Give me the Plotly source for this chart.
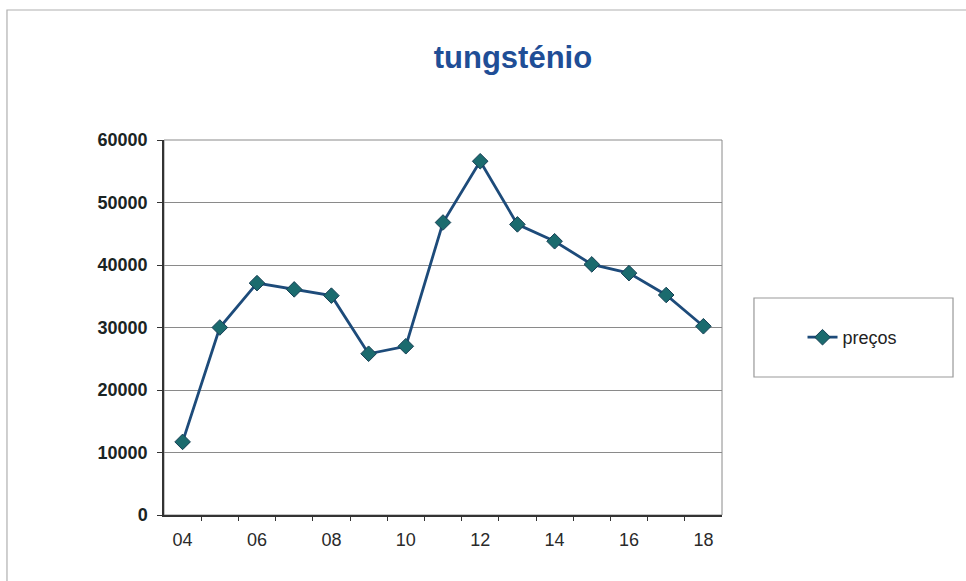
import plotly.graph_objects as go

years = ["04", "05", "06", "07", "08", "09", "10", "11", "12", "13", "14", "15", "16", "17", "18"]
precos = [11700, 30000, 37100, 36100, 35100, 25800, 27000, 46800, 56600, 46500, 43800, 40100, 38700, 35200, 30200]
label_years = ["04", "06", "08", "10", "12", "14", "16", "18"]
y_ticks = [0, 10000, 20000, 30000, 40000, 50000, 60000]

idx = list(range(len(years)))
label_pos = [years.index(y) for y in label_years]
boundaries = [i + 0.5 for i in idx[:-1]]

fig = go.Figure()
fig.add_trace(go.Scatter(
    x=idx, y=precos, mode="lines+markers", name="preços",
    line=dict(color="#1D4B7A", width=2.8),
    marker=dict(symbol="diamond", size=12, color="#1B6B6E",
                line=dict(color="#163F55", width=1)),
))
# invisible helper trace so the boundary-tick axis is drawn
fig.add_trace(go.Scatter(
    x=idx, y=precos, xaxis="x2", mode="markers", marker=dict(opacity=0),
    hoverinfo="skip", showlegend=False,
))

fig.update_layout(
    width=966, height=581,
    margin=dict(l=164, r=244, t=140, b=66),
    paper_bgcolor="white", plot_bgcolor="white",
    title=dict(text="<b>tungsténio</b>", x=0.531, xanchor="center",
               y=0.902, yanchor="middle",
               font=dict(family="Liberation Sans, Arial", size=31, color="#1F4E96")),
    xaxis=dict(range=[-0.5, 14.5], tickvals=label_pos, ticktext=label_years,
               ticks="", showgrid=False, zeroline=False, ticklabelstandoff=8,
               showline=True, linecolor="#333333", linewidth=1.5,
               tickfont=dict(family="Liberation Sans, Arial", size=18, color="#2a2a2a")),
    xaxis2=dict(range=[-0.5, 14.5], overlaying="x", anchor="y", side="bottom",
                tickvals=boundaries, showticklabels=False, ticks="outside",
                ticklen=5, tickcolor="#333333", tickwidth=1.2,
                showgrid=False, zeroline=False, showline=False),
    yaxis=dict(range=[0, 60000], tickvals=y_ticks,
               ticktext=[f"<b>{v}</b>" for v in y_ticks],
               ticks="outside", ticklen=5, tickcolor="#333333", ticklabelstandoff=6,
               showgrid=True, gridcolor="#8a8a8a", gridwidth=1,
               zeroline=False, showline=True, linecolor="#333333", linewidth=1.5,
               tickfont=dict(family="Liberation Sans, Arial", size=18, color="#1a2424")),
    showlegend=True,
    legend=dict(x=1.2339, y=0.4733, xanchor="center", yanchor="middle",
                bgcolor="rgba(0,0,0,0)", borderwidth=0,
                font=dict(family="Liberation Sans, Arial", size=18, color="#222222")),
    shapes=[
        dict(type="rect", xref="x domain", yref="y domain", x0=0, x1=1, y0=0, y1=1,
             line=dict(color="#8a8a8a", width=1), layer="below"),
        dict(type="rect", xref="paper", yref="paper", x0=1.0573, x1=1.414, y0=0.368, y1=0.5787,
             line=dict(color="#999999", width=1.2), fillcolor="rgba(0,0,0,0)"),
        dict(type="rect", xref="paper", yref="paper", x0=-0.2814, x1=1.5, y0=-0.3, y1=1.3467,
             line=dict(color="#b0b0b0", width=1.2), fillcolor="rgba(0,0,0,0)"),
    ],
)

fig.write_html("out.html")
